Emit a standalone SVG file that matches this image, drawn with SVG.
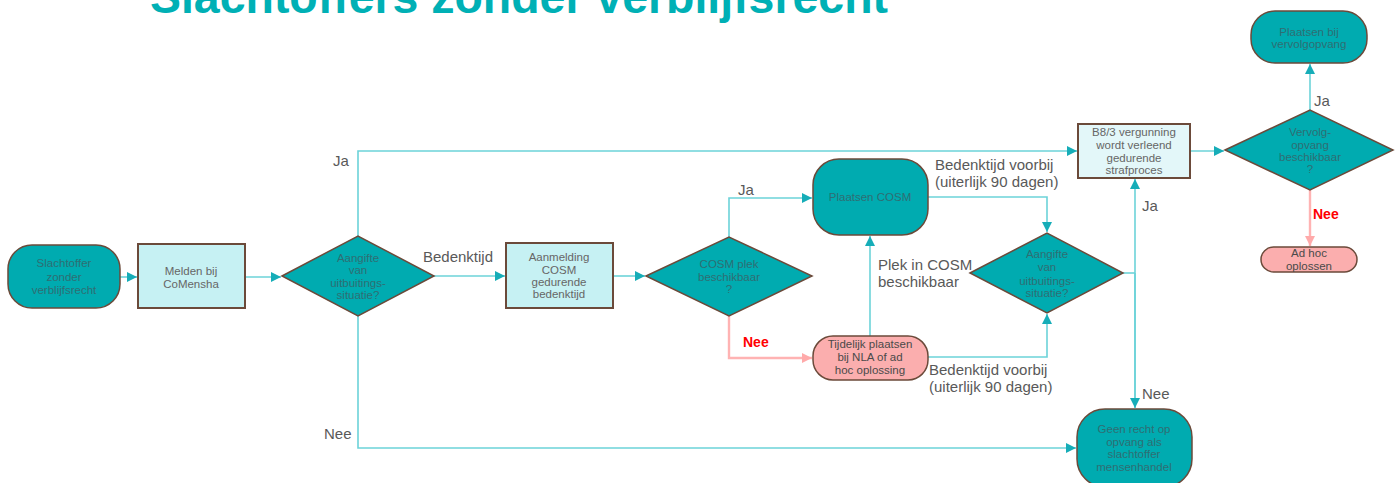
<svg xmlns="http://www.w3.org/2000/svg" width="1400" height="483" viewBox="0 0 1400 483">
<defs>
<marker id="at" markerUnits="userSpaceOnUse" markerWidth="10" markerHeight="10" refX="10" refY="5" orient="auto" viewBox="0 0 10 10"><path d="M0,0 L10,5 L0,10 z" fill="#16adb8"/></marker>
<marker id="ap" markerUnits="userSpaceOnUse" markerWidth="10" markerHeight="10" refX="10" refY="5" orient="auto" viewBox="0 0 10 10"><path d="M0,0 L10,5 L0,10 z" fill="#ffaaaa"/></marker>
</defs>
<style>
.teal{fill:#00abb0;stroke:#6b4a3a;stroke-width:1.5}
.light{fill:#c6f1f3;stroke:#6b4a3a;stroke-width:2}
.pale{fill:#e3f7f9;stroke:#6b4a3a;stroke-width:2}
.pink{fill:#fbaeae;stroke:#6b4a3a;stroke-width:1.5}
.nt{font-family:"Liberation Sans",Arial,sans-serif;font-size:11.5px;text-anchor:middle;dominant-baseline:central}
.tt{fill:#2f6e73}
.gt{fill:#666666}
.pt{fill:#4a4a4a}
.lbl{font-family:"Liberation Sans",Arial,sans-serif;font-size:15px;fill:#595959}
.red{font-family:"Liberation Sans",Arial,sans-serif;font-size:14px;font-weight:bold;fill:#ff0000}
.c{fill:none;stroke:#6cd3d9;stroke-width:1.6}
.cp{fill:none;stroke:#ffb3b3;stroke-width:2.4}
</style>
<text x="150" y="13" font-family="Liberation Sans,Arial,sans-serif" font-weight="bold" font-size="46" fill="#00b0b5" textLength="738" lengthAdjust="spacingAndGlyphs">Slachtoffers zonder verblijfsrecht</text>

<g id="connectors">
<path class="c" d="M120,277 L137,277" marker-end="url(#at)"/>
<path class="c" d="M245,277 L281,277" marker-end="url(#at)"/>
<path class="c" d="M358,236 L358,151 L1077,151" marker-end="url(#at)"/>
<path class="c" d="M358,316 L358,448 L1076,448" marker-end="url(#at)"/>
<path class="c" d="M434,276 L505,276" marker-end="url(#at)"/>
<path class="c" d="M613,276 L645,276" marker-end="url(#at)"/>
<path class="c" d="M729,237 L729,198 L812,198" marker-end="url(#at)"/>
<path class="cp" d="M729,316 L729,358 L812,358" marker-end="url(#ap)"/>
<path class="c" d="M870,336 L870,236" marker-end="url(#at)"/>
<path class="c" d="M928,197 L1047,197 L1047,232" marker-end="url(#at)"/>
<path class="c" d="M928,357 L1047,357 L1047,314" marker-end="url(#at)"/>
<path class="c" d="M1123,273 L1135,273"/>
<path class="c" d="M1135,408 L1135,179" marker-end="url(#at)"/>
<path class="c" d="M1135,273 L1135,408" marker-end="url(#at)"/>
<path class="c" d="M1190,151 L1224,151" marker-end="url(#at)"/>
<path class="c" d="M1310,110 L1310,64" marker-end="url(#at)"/>
<path class="cp" d="M1310,190 L1310,246" marker-end="url(#ap)"/>
<text class="lbl" x="333" y="166">Ja</text>
<text class="lbl" x="324" y="439">Nee</text>
<text class="lbl" x="423" y="262">Bedenktijd</text>
<text class="lbl" x="738" y="195">Ja</text>
<text class="red" x="743" y="347">Nee</text>
<text class="lbl" x="878" y="270">Plek in COSM</text>
<text class="lbl" x="878" y="287">beschikbaar</text>
<text class="lbl" x="935" y="170">Bedenktijd voorbij</text>
<text class="lbl" x="935" y="187">(uiterlijk 90 dagen)</text>
<text class="lbl" x="929" y="375">Bedenktijd voorbij</text>
<text class="lbl" x="929" y="392">(uiterlijk 90 dagen)</text>
<text class="lbl" x="1142" y="211">Ja</text>
<text class="lbl" x="1142" y="399">Nee</text>
<text class="lbl" x="1314" y="106">Ja</text>
<text class="red" x="1313" y="219">Nee</text>
</g>

<g id="n1"><rect class="teal" x="8" y="245" width="112" height="63" rx="24"/>
<text class="nt tt" x="64" y="263">Slachtoffer</text><text class="nt tt" x="64" y="277">zonder</text><text class="nt tt" x="64" y="290">verblijfsrecht</text></g>

<g id="n2"><rect class="light" x="138" y="244" width="107" height="64"/>
<text class="nt gt" x="191" y="271">Melden bij</text><text class="nt gt" x="191" y="284">CoMensha</text></g>

<g id="n3"><path class="teal" d="M282,276 L358,236 L434,276 L358,316 Z"/>
<text class="nt tt" x="358" y="258">Aangifte</text><text class="nt tt" x="358" y="270">van</text><text class="nt tt" x="358" y="283">uitbuitings-</text><text class="nt tt" x="358" y="295">situatie?</text></g>

<g id="n4"><rect class="light" x="506" y="243" width="107" height="65"/>
<text class="nt gt" x="559" y="257">Aanmelding</text><text class="nt gt" x="559" y="270">COSM</text><text class="nt gt" x="559" y="282">gedurende</text><text class="nt gt" x="559" y="294">bedenktijd</text></g>

<g id="n5"><path class="teal" d="M646,276 L729,237 L812,276 L729,316 Z"/>
<text class="nt tt" x="729" y="264">COSM plek</text><text class="nt tt" x="729" y="277">beschikbaar</text><text class="nt tt" x="729" y="289">?</text></g>

<g id="n6"><rect class="teal" x="813" y="159" width="115" height="76" rx="26"/>
<text class="nt tt" x="870" y="197">Plaatsen COSM</text></g>

<g id="n7"><rect class="pink" x="813" y="336" width="115" height="44" rx="20"/>
<text class="nt pt" x="870" y="344">Tijdelijk plaatsen</text><text class="nt pt" x="870" y="357">bij NLA of ad</text><text class="nt pt" x="870" y="370">hoc oplossing</text></g>

<g id="n8"><path class="teal" d="M970,273 L1047,233 L1123,273 L1047,313 Z"/>
<text class="nt tt" x="1047" y="254">Aangifte</text><text class="nt tt" x="1047" y="267">van</text><text class="nt tt" x="1047" y="281">uitbuitings-</text><text class="nt tt" x="1047" y="293">situatie?</text></g>

<g id="n9"><rect class="pale" x="1078" y="124" width="112" height="54"/>
<text class="nt gt" x="1134" y="132">B8/3 vergunning</text><text class="nt gt" x="1134" y="145">wordt verleend</text><text class="nt gt" x="1134" y="158">gedurende</text><text class="nt gt" x="1134" y="170">strafproces</text></g>

<g id="n10"><path class="teal" d="M1225,150 L1310,110 L1393,150 L1310,190 Z"/>
<text class="nt tt" x="1310" y="132">Vervolg-</text><text class="nt tt" x="1310" y="145">opvang</text><text class="nt tt" x="1310" y="157">beschikbaar</text><text class="nt tt" x="1310" y="169">?</text></g>

<g id="n11"><rect class="teal" x="1251" y="11" width="116" height="52" rx="24"/>
<text class="nt tt" x="1309" y="32">Plaatsen bij</text><text class="nt tt" x="1309" y="44">vervolgopvang</text></g>

<g id="n12"><rect class="pink" x="1261" y="247" width="96" height="25" rx="12.5"/>
<text class="nt pt" x="1309" y="253">Ad hoc</text><text class="nt pt" x="1309" y="266">oplossen</text></g>

<g id="n13"><rect class="teal" x="1077" y="409" width="115" height="78" rx="28"/>
<text class="nt tt" x="1134" y="429">Geen recht op</text><text class="nt tt" x="1134" y="442">opvang als</text><text class="nt tt" x="1134" y="454">slachtoffer</text><text class="nt tt" x="1134" y="467">mensenhandel</text></g>
</svg>
